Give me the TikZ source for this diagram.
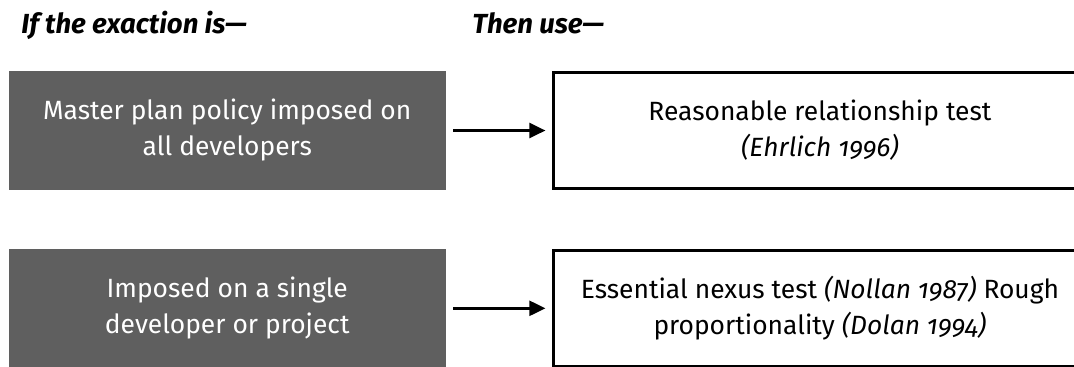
\documentclass[tikz,border=0pt]{standalone}
\usepackage{fontspec}
\setmainfont{Fira Sans}[Numbers=OldStyle]
\usetikzlibrary{arrows.meta, positioning}
\definecolor{boxgray}{RGB}{95,95,95}

\begin{document}
\begin{tikzpicture}[x=0.5pt, y=-0.5pt, >={Triangle[length=8pt, width=7.5pt]},
    font=\fontsize{13.2}{18}\selectfont,
    exaction/.style={fill=boxgray, text=white, align=center, inner sep=0pt,
      minimum width=218.75pt, minimum height=59.5pt},
    testbox/.style={draw=black, line width=1.5pt, fill=white, align=center,
      inner sep=0pt, minimum width=266pt, minimum height=58pt},
    heading/.style={font=\fontsize{13.8}{16}\selectfont\bfseries\itshape,
      anchor=base west, inner sep=0pt},
    link/.style={->, line width=1.2pt, shorten <=3.5pt, shorten >=3.5pt}]
  \useasboundingbox (0,0) rectangle (1074,366);
  \clip (0,0) rectangle (1074,366);

  % column headings
  \node[heading] (headIf) at (21,33) {If the exaction is---};
  \node[heading] (headThen) at (472,33) {Then use---};

  % left column: kind of exaction
  \node[exaction] (policy) at (227.25,130.5)
    {Master plan policy imposed on\\all developers};
  \node[exaction, below=29pt of policy] (single)
    {Imposed on a single\\developer or project};

  % right column: test to apply
  \node[testbox, right=53pt of policy] (reasonable)
    {Reasonable relationship test\\\textit{(Ehrlich 1996)}};
  \node[testbox, right=53pt of single] (nexus)
    {Essential nexus test \textit{(Nollan 1987)} Rough\\proportionality \textit{(Dolan 1994)}};

  % arrows
  \draw[link] (policy) -- (reasonable);
  \draw[link] (single) -- (nexus);
\end{tikzpicture}
\end{document}
